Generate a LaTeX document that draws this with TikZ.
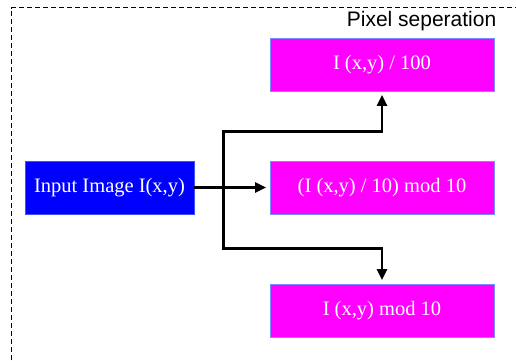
\documentclass[tikz,border=0pt]{standalone}
\usepackage{fontspec}
\setmainfont{Liberation Serif}
\newfontfamily\labelfont{Liberation Sans}
\usetikzlibrary{arrows.meta}
\definecolor{boxedge}{RGB}{120,140,255}
\definecolor{stagefill}{RGB}{255,0,255}
\definecolor{inputfill}{RGB}{0,0,255}
\begin{document}
\begin{tikzpicture}[x=1pt,y=1pt,
  stagebox/.style={draw=boxedge,line width=0.8pt,fill=stagefill,text=white,inner sep=0pt,
    minimum width=224pt,minimum height=53pt,font=\fontsize{20.5}{24}\selectfont},
  inputbox/.style={stagebox,fill=inputfill,draw={rgb,255:red,60;green,80;blue,255},minimum width=169pt},
  flow/.style={line width=2.2pt,-{Triangle[length=11pt,width=10pt]},shorten >=3.5pt}]
\useasboundingbox (0,0) rectangle (516,360);
\draw[dash pattern=on 5pt off 3pt,line width=1.1pt] (11.5,0) -- (11.5,352.5) -- (516,352.5);
\node[anchor=base east,inner sep=0pt,font=\labelfont\fontsize{21}{24}\selectfont] (title) at (496.5,333.5) {Pixel seperation};
\node[inputbox] (input) at (109.5,172.5) {Input Image I(x,y)};
\node[stagebox] (hundreds) at (382,295.5) {I (x,y) / 100};
\node[stagebox] (tens) at (382,172.5) {(I (x,y) / 10) mod 10};
\node[stagebox] (units) at (382,49.5) {I (x,y) mod 10};
\coordinate (split) at (223.5,172.5);
\coordinate (upper) at (223.5,228.5);
\coordinate (lower) at (223.5,111.5);
\draw[flow] (input) -- (tens);
\draw[flow] (split) -- (upper) -| (hundreds.south);
\draw[flow] (split) -- (lower) -| (units.north);
\end{tikzpicture}
\end{document}
